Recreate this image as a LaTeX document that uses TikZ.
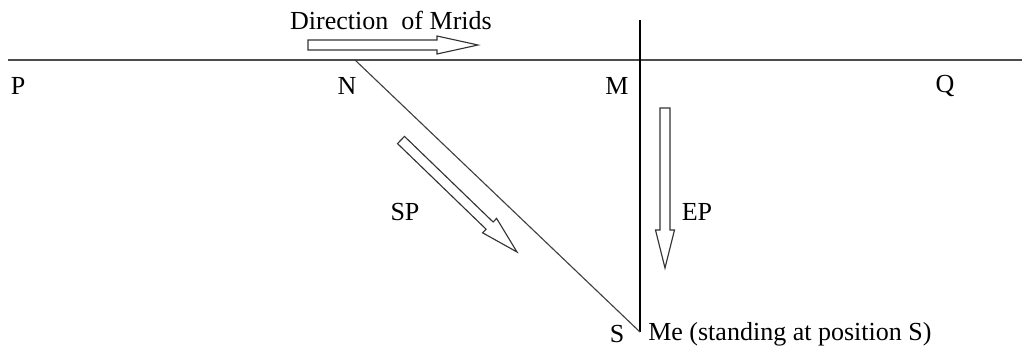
\documentclass[tikz,border=0pt]{standalone}
\usepackage{fontspec}
\setmainfont{Liberation Serif}
\usetikzlibrary{positioning}

\begin{document}
\begin{tikzpicture}[
    x=0.025cm, y=-0.025cm,
    lbl/.style    = {inner sep=0pt, font=\fontsize{18.5}{22}\selectfont},
    road/.style   = {draw=black!70, line width=1.4pt},
    sight/.style  = {draw=black, line width=1.1pt},
    slant/.style  = {draw=black!75, line width=0.8pt},
    hollow/.style = {draw=black!80, fill=white, line width=0.8pt, line join=miter}
]
\useasboundingbox (0,0) rectangle (1022,350);

% Road ends and my position
\coordinate (pend) at (8,60);
\coordinate (qend) at (1022,60);
\coordinate (n) at (355,60);
\coordinate (mtop) at (640,20);
\coordinate (s) at (640,332);

% Points on the road
\node (P) [lbl] at (18,86) {P};
\node (N) [lbl] at (347,86) {N};
\node (M) [lbl] at (617,86) {M};
\node (Q) [lbl] at (945,86) {Q};

% Lines
\draw [road]  (pend) -- (qend);
\draw [sight] (mtop) -- (s);
\draw [slant] (n) -- (s);

% Hollow arrows
\draw [hollow] (308,40) -- (437,40) -- (437,36) -- (478,45) -- (437,54) -- (437,50) -- (308,50) -- cycle;
\draw [hollow] (397.5,143.6) -- (486.1,229.2) -- (482.6,232.8) -- (517,252) -- (496.6,218.4) -- (493.1,222.0) -- (404.5,136.4) -- cycle;
\draw [hollow] (660,108) -- (660,230) -- (655.5,230) -- (665,268) -- (674.5,230) -- (670,230) -- (670,108) -- cycle;

% Labels
\node (dir) [lbl] at (391,20) {Direction \ of Mrids};
\node (sp)  [lbl] at (405,212) {SP};
\node (ep)  [lbl] at (697,212) {EP};
\node (S)   [lbl] at (617,334) {S};
\node (me)  [lbl, anchor=west] at (648,334) {Me (standing at position S)};

\end{tikzpicture}
\end{document}
